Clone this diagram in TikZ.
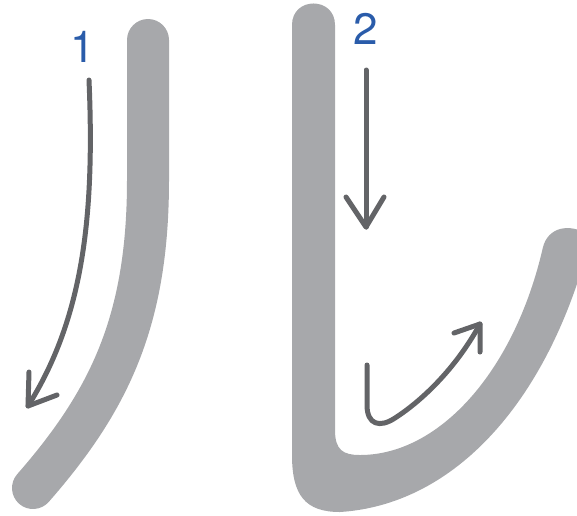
\documentclass[tikz,border=0pt]{standalone}
\usepackage{fontspec}
\setmainfont{TeX Gyre Heros}
\definecolor{brushgrey}{HTML}{A7A8AB}
\definecolor{arrowgrey}{HTML}{636467}
\definecolor{numblue}{HTML}{2A5CAA}
\begin{document}
\begin{tikzpicture}[x=1pt,y=-1pt,
  brush/.style={draw=brushgrey,line width=42pt,line cap=round},
  brushfill/.style={fill=brushgrey},
  guide/.style={draw=arrowgrey,line width=5pt,line cap=round,line join=round},
  digit/.style={text=numblue,font=\fontsize{44}{44}\selectfont,inner sep=0pt}]
\useasboundingbox (0,0) rectangle (577,515);
\clip (0,0) rectangle (577,515);
% stroke 1
\path[brush] (148,40) -- (148,180) .. controls (148,320) and (110,400) .. (33,488);
% stroke 2
\path[brushfill] (292,25) .. controls (292,-3.7) and (335,-3.7) .. (335,25)
  -- (335,430) .. controls (335,450) and (343,455) .. (360,455)
  .. controls (440,455) and (515,370) .. (543,247)
  .. controls (548,228) and (568,222) .. (590,235)
  -- (592,262) -- (584,262)
  .. controls (540,410) and (450,505) .. (340,512)
  .. controls (305,512) and (292,495) .. (292,455) -- cycle;
% labels
\node[digit] (n1) at (83,47) {1};
\node[digit] (n2) at (366,29) {2};
% arrow 1
\coordinate (a1s) at (89,80);
\coordinate (a1t) at (28,406);
\path[guide] (a1s) .. controls (95,220) and (82,320) .. (a1t);
\path[guide] (29,372) -- (a1t) -- (57,395);
% arrow 2 vertical
\coordinate (a2s) at (366,70);
\coordinate (a2t) at (366,227);
\path[guide] (a2s) -- (a2t);
\path[guide] (346,197) -- (a2t) -- (384,197);
% arrow 2 hook
\coordinate (a3s) at (367,365);
\coordinate (a3t) at (480,324);
\path[guide] (a3s) -- (367,405) .. controls (367,425) and (380,428) .. (395,418)
  .. controls (420,402) and (455,370) .. (a3t);
\path[guide] (454,333) -- (a3t) -- (480,352);
\end{tikzpicture}
\end{document}
